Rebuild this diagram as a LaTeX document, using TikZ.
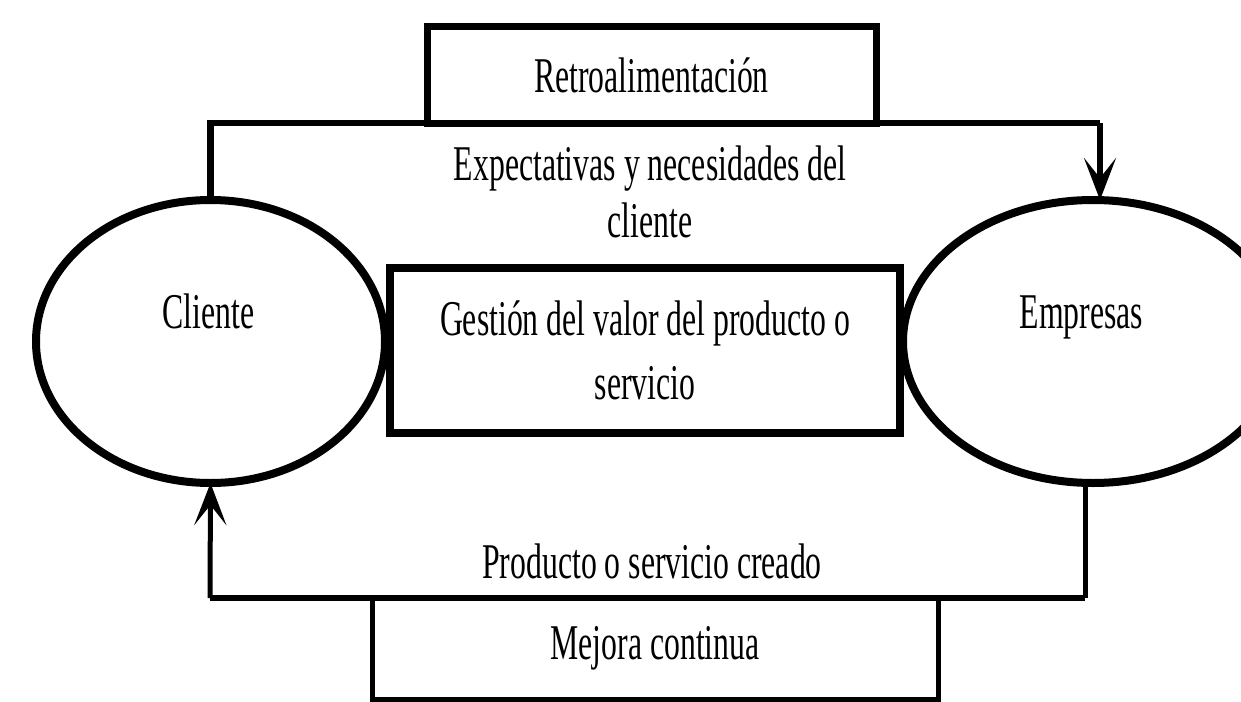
\documentclass[tikz,border=0pt]{standalone}
\usepackage{fontspec}
\newfontfamily\cond[FakeStretch=0.635]{Liberation Serif}
\usetikzlibrary{arrows.meta,calc,shapes.geometric}
\begin{document}
\begin{tikzpicture}[x=1pt,y=-1pt,
  txt/.style={font=\cond\fontsize{50}{60}\selectfont, inner sep=0pt, outer sep=0pt, align=center},
  ell/.style={ellipse, draw, line width=8pt, inner sep=0pt, outer sep=0pt},
  boxx/.style={rectangle, draw, line width=7pt, inner sep=0pt, outer sep=0pt, fill=white},
  conn/.style={line width=6.5pt},
  thin/.style={line width=5pt},
  arr/.style={-{Stealth[length=42pt,width=32pt,inset=20pt]}},
]
\useasboundingbox (0,0) rectangle (1241,701);
% ellipses
\node[ell, minimum width=349, minimum height=283] (cliente) at (210.5,341.5) {};
\node[ell, minimum width=380, minimum height=283] (empresas) at (1093,341.5) {};
\node[txt, anchor=base] (clienteT) at (208.5,328) {Cliente};
\node[txt, anchor=base] (empresasT) at (1081.5,328) {Empresas};
% boxes
\node[boxx, txt, line width=7pt, draw, fill=white, minimum width=449, minimum height=96] (retro) at (651.5,75) {Retroalimentación};
\node[boxx, txt, line width=8pt, draw, fill=white, minimum width=510, minimum height=165,
      font=\cond\fontsize{50}{64}\selectfont] (gestion) at (645,350.5) {Gestión del valor del producto o\\servicio};
\node[boxx, txt, line width=5pt, draw, fill=white, minimum width=566, minimum height=101] (mejora) at (655,648.5) {Mejora continua};
% labels
\node[txt, font=\cond\fontsize{50}{57}\selectfont] (expect) at (650,191.5) {Expectativas y necesidades del\\cliente};
\node[txt, anchor=base] (producto) at (652,578) {Producto o servicio creado};
% connectors
\coordinate (tr) at (1100,123);
\coordinate (bl) at (210,598);
\draw[conn] (cliente.north) |- (tr);
\draw[conn, arr] (tr) -- (tr |- empresas.north);
\draw[thin] ([xshift=-8pt]empresas.south) -- ([xshift=-8pt]empresas.south |- bl);
\draw[conn] ([xshift=-8pt]empresas.south |- bl) -- (bl);
\draw[thin, arr] (bl) -- (cliente.south);
\end{tikzpicture}
\end{document}
